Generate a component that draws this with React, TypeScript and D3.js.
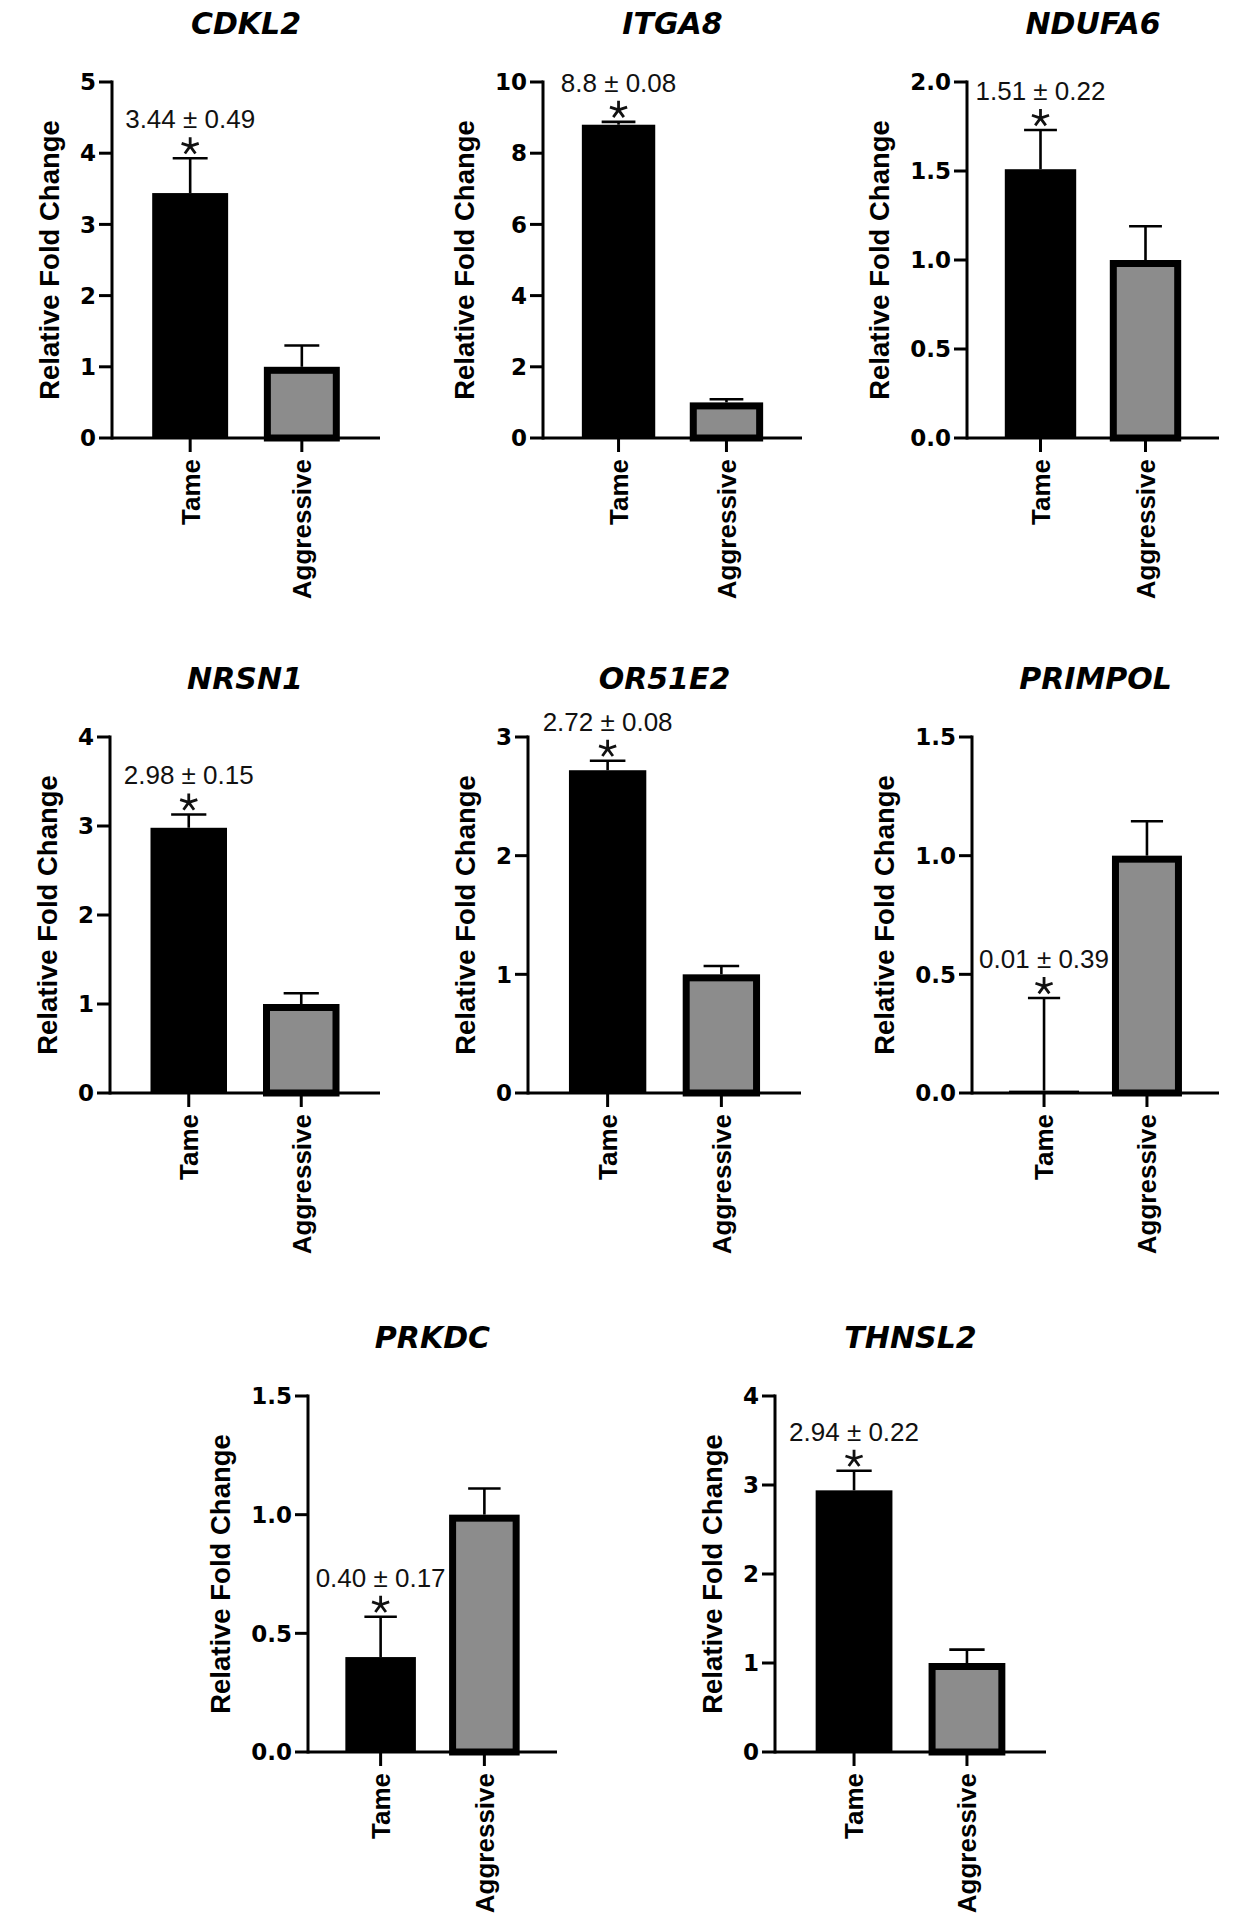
import React from "react";
import * as d3 from "d3";

// ---- data ----
const genes = ["CDKL2", "ITGA8", "NDUFA6", "NRSN1", "OR51E2", "PRIMPOL", "PRKDC", "THNSL2"];
const groups = ["Tame", "Aggressive"];
const tameMean = [3.44, 8.8, 1.51, 2.98, 2.72, 0.01, 0.4, 2.94];
const tameSem = [0.49, 0.08, 0.22, 0.15, 0.08, 0.39, 0.17, 0.22];
const aggrMean = [1, 1, 1, 1, 1, 1, 1, 1];
const aggrSem = [0.3, 0.09, 0.19, 0.12, 0.07, 0.145, 0.11, 0.15];
const annotations = [
  "3.44 ± 0.49",
  "8.8 ± 0.08",
  "1.51 ± 0.22",
  "2.98 ± 0.15",
  "2.72 ± 0.08",
  "0.01 ± 0.39",
  "0.40 ± 0.17",
  "2.94 ± 0.22",
];
const yMaxes = [5, 10, 2, 4, 3, 1.5, 1.5, 4];
const yTickSteps = [1, 2, 0.5, 1, 1, 0.5, 0.5, 1];
const yAxisTitle = "Relative Fold Change";

// ---- layout (positions only) ----
const panelLayout = [
  { axisX: 112, xEnd: 380, y0: 438 },
  { axisX: 543, xEnd: 802, y0: 438 },
  { axisX: 967, xEnd: 1219, y0: 438 },
  { axisX: 110, xEnd: 380, y0: 1093 },
  { axisX: 528, xEnd: 801, y0: 1093 },
  { axisX: 972, xEnd: 1219, y0: 1093 },
  { axisX: 308, xEnd: 557, y0: 1752 },
  { axisX: 775, xEnd: 1046, y0: 1752 },
];
const PLOT_H = 356;
const TAME_FILL = "#000000";
const AGGR_FILL = "#8c8c8c";
const FONT_TICK = "'DejaVu Sans', sans-serif";
const FONT_ARIAL = "'Liberation Sans', Arial, sans-serif";
const TICK_FS = 23;

function asteriskPath(cx: number, cy: number, r: number) {
  let d = "";
  for (let k = 0; k < 5; k++) {
    const a = -Math.PI / 2 + (k * 2 * Math.PI) / 5;
    d += `M${cx},${cy}L${cx + r * Math.cos(a)},${cy + r * Math.sin(a)}`;
  }
  return d;
}

function Panel({ i }: { i: number }) {
  const L = panelLayout[i];
  const yMax = yMaxes[i];
  const step = yTickSteps[i];
  const y = d3.scaleLinear().domain([0, yMax]).range([L.y0, L.y0 - PLOT_H]);
  const x = d3
    .scaleBand<string>()
    .domain(groups)
    .range([L.axisX, L.xEnd])
    .paddingInner(0.32)
    .paddingOuter(0.36);
  const bw = x.bandwidth();
  const ticks = d3.range(0, yMax + step / 2, step);
  const fmt = step < 1 ? d3.format(".1f") : d3.format("d");
  const labelW = Math.max(
    ...ticks.map((t) =>
      fmt(t)
        .split("")
        .reduce((s, c) => s + (c === "." ? 0.38 : 0.696), 0) * TICK_FS
    )
  );
  const titleX = L.axisX - 17 - labelW - 20;
  const means = [tameMean[i], aggrMean[i]];
  const sems = [tameSem[i], aggrSem[i]];
  const sw = 7;
  const capW = bw * 0.46;
  const tameCx = (x("Tame") as number) + bw / 2;
  const capY = y(tameMean[i] + tameSem[i]);

  return (
    <g>
      {/* gene title */}
      <text
        x={(L.axisX + L.xEnd) / 2}
        y={L.y0 - 404}
        textAnchor="middle"
        fontFamily={FONT_TICK}
        fontWeight="bold"
        fontStyle="italic"
        fontSize={30}
      >
        {genes[i]}
      </text>

      {/* bars */}
      {groups.map((g, j) => {
        const bx = x(g) as number;
        const top = y(means[j]);
        if (j === 0) {
          return <rect key={g} x={bx} y={top} width={bw} height={L.y0 - top} fill={TAME_FILL} />;
        }
        return (
          <rect
            key={g}
            x={bx + sw / 2}
            y={top + sw / 2}
            width={bw - sw}
            height={L.y0 - top - sw / 2}
            fill={AGGR_FILL}
            stroke="#000"
            strokeWidth={sw}
          />
        );
      })}

      {/* error bars */}
      {groups.map((g, j) => {
        const cx = (x(g) as number) + bw / 2;
        const yTop = y(means[j] + sems[j]);
        const yb = y(means[j]);
        return (
          <g key={g} stroke="#000" strokeWidth={2.6}>
            <line x1={cx} x2={cx} y1={yb} y2={yTop} />
            <line x1={cx - capW / 2} x2={cx + capW / 2} y1={yTop} y2={yTop} />
          </g>
        );
      })}

      {/* significance */}
      <path d={asteriskPath(tameCx, capY - 12, 9)} stroke="#111" strokeWidth={2.8} fill="none" />
      <text
        x={tameCx}
        y={capY - 30}
        textAnchor="middle"
        fontFamily={FONT_ARIAL}
        fontSize={26}
        fill="#111"
      >
        {annotations[i]}
      </text>

      {/* y axis */}
      <line x1={L.axisX} x2={L.axisX} y1={L.y0 + 1.5} y2={y(yMax) - 1.5} stroke="#000" strokeWidth={3} />
      {ticks.map((t) => (
        <g key={t}>
          <line x1={L.axisX - 13} x2={L.axisX} y1={y(t)} y2={y(t)} stroke="#000" strokeWidth={3} />
          <text
            x={L.axisX - 16}
            y={y(t)}
            dy="0.36em"
            textAnchor="end"
            fontFamily={FONT_TICK}
            fontWeight="bold"
            fontSize={TICK_FS}
          >
            {fmt(t)}
          </text>
        </g>
      ))}
      <text
        transform={`translate(${titleX},${L.y0 - PLOT_H / 2}) rotate(-90)`}
        textAnchor="middle"
        fontFamily={FONT_ARIAL}
        fontWeight="bold"
        fontSize={27.5}
      >
        {yAxisTitle}
      </text>

      {/* x axis */}
      <line x1={L.axisX} x2={L.xEnd} y1={L.y0} y2={L.y0} stroke="#000" strokeWidth={3} />
      {groups.map((g) => {
        const cx = (x(g) as number) + bw / 2;
        return (
          <g key={g}>
            <line x1={cx} x2={cx} y1={L.y0} y2={L.y0 + 14} stroke="#000" strokeWidth={3} />
            <text
              transform={`translate(${cx},${L.y0 + 21}) rotate(-90)`}
              dy="0.36em"
              textAnchor="end"
              fontFamily={FONT_ARIAL}
              fontWeight="bold"
              fontSize={26}
            >
              {g}
            </text>
          </g>
        );
      })}
    </g>
  );
}

export default function App() {
  return (
    <svg
      width={1234}
      height={1920}
      viewBox="0 0 1234 1920"
      style={{ position: "absolute", left: 0, top: 0, background: "#fff" }}
    >
      <rect x={0} y={0} width={1234} height={1920} fill="#fff" />
      {genes.map((g, i) => (
        <Panel key={g} i={i} />
      ))}
    </svg>
  );
}
